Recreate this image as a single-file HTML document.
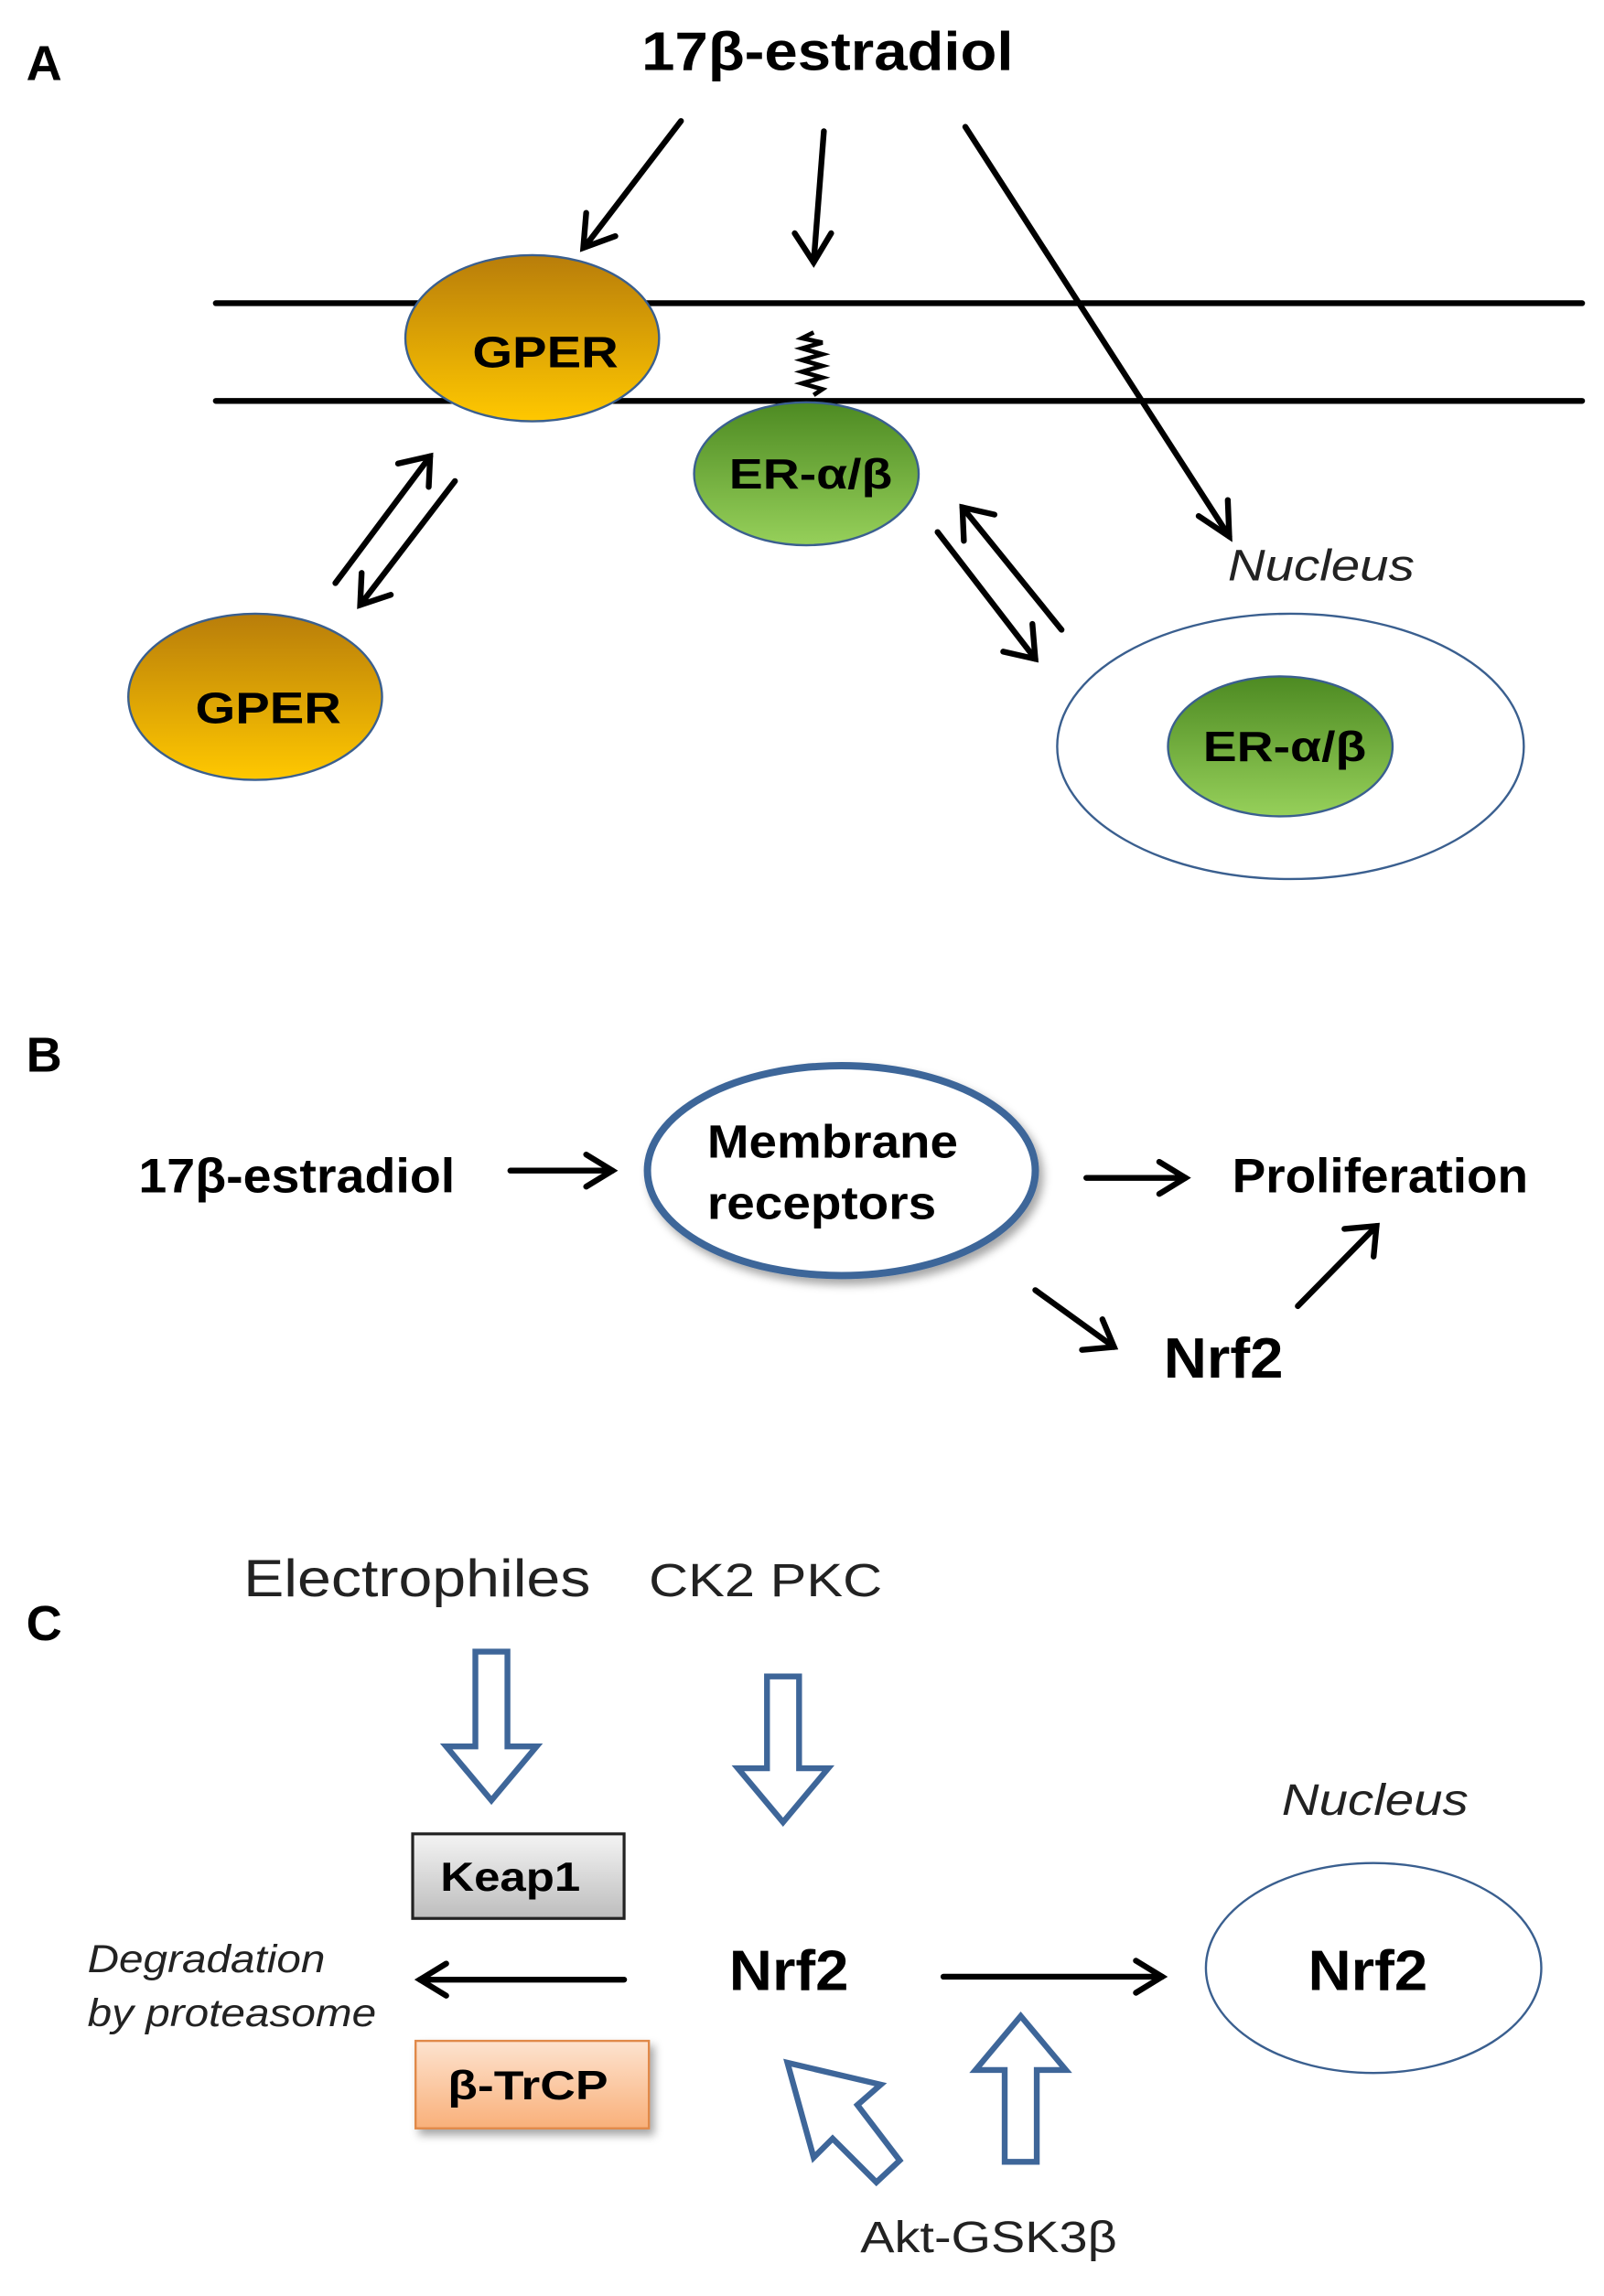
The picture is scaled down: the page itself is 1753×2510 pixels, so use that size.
<!DOCTYPE html>
<html><head><meta charset="utf-8"><style>
html,body{margin:0;padding:0;background:#fff;}
svg{display:block;}
text{font-family:"Liberation Sans",sans-serif;}
</style></head><body>
<svg width="1753" height="2510" viewBox="0 0 1100 1575" xmlns="http://www.w3.org/2000/svg">
<defs>
<linearGradient id="gold" x1="0" y1="0" x2="0" y2="1"><stop offset="0" stop-color="#b87d0a"/><stop offset="1" stop-color="#ffc800"/></linearGradient>
<linearGradient id="green" x1="0" y1="0" x2="0" y2="1"><stop offset="0" stop-color="#4d8a22"/><stop offset="1" stop-color="#96d05a"/></linearGradient>
<linearGradient id="gray" x1="0" y1="0" x2="0" y2="1"><stop offset="0" stop-color="#f4f4f4"/><stop offset="1" stop-color="#bdbdbd"/></linearGradient>
<linearGradient id="orng" x1="0" y1="0" x2="0" y2="1"><stop offset="0" stop-color="#fde3cf"/><stop offset="1" stop-color="#f9b07a"/></linearGradient>
<filter id="sh" x="-20%" y="-20%" width="140%" height="140%"><feDropShadow dx="3" dy="4" stdDeviation="3" flood-color="#000" flood-opacity="0.35"/></filter>
</defs>
<g stroke="#000" stroke-width="4" fill="none" stroke-linecap="round">
<line x1="467" y1="83" x2="402" y2="168"/><polyline points="402,146 400,170 422,162"/>
<line x1="565" y1="90" x2="558" y2="180"/><polyline points="545,160 558,180 570,160"/>
<line x1="662" y1="87" x2="843" y2="368"/><polyline points="822,354 843,368 842,343"/>
<line x1="148" y1="208" x2="1085" y2="208"/>
<line x1="148" y1="275" x2="1085" y2="275"/>
<line x1="230" y1="400" x2="295" y2="313"/><polyline points="273,318 295,313 294,334"/>
<line x1="312" y1="330" x2="247" y2="415"/><polyline points="248,393 247,415 268,408"/>
<line x1="728" y1="432" x2="660" y2="348"/><polyline points="661,371 660,348 682,353"/>
<line x1="643" y1="365" x2="710" y2="452"/><polyline points="688,447 710,452 708,428"/>
<line x1="350" y1="803" x2="420" y2="803"/><polyline points="402,792 420,803 402,814"/>
<line x1="745" y1="808" x2="813" y2="808"/><polyline points="795,797 813,808 795,819"/>
<line x1="710" y1="885" x2="764" y2="924"/><polyline points="742,926 764,924 756,905"/>
<line x1="890" y1="896" x2="944" y2="841"/><polyline points="922,843 944,841 942,862"/>
<line x1="428" y1="1358" x2="288" y2="1358"/><polyline points="306,1347 288,1358 306,1369"/>
<line x1="647" y1="1356" x2="797" y2="1356"/><polyline points="779,1345 797,1356 779,1367"/>
</g>
<path d="M558,228 l-8,4 l14,3 l-14,4 l14,4 l-14,4 l14,4 l-14,4 l14,4 l-14,4 l14,4 l-6,4" stroke="#000" stroke-width="3" fill="none"/>
<text x="18" y="55" font-size="34" font-weight="bold">A</text>
<text x="440" y="48" font-size="37" font-weight="bold" textLength="255" lengthAdjust="spacingAndGlyphs">17β-estradiol</text>
<ellipse cx="365" cy="232" rx="87" ry="57" fill="url(#gold)" stroke="#3a5f8f" stroke-width="1.5"/>
<text x="324" y="252" font-size="30" font-weight="bold" textLength="100" lengthAdjust="spacingAndGlyphs">GPER</text>
<ellipse cx="553" cy="325" rx="77" ry="49" fill="url(#green)" stroke="#3a5f8f" stroke-width="1.5"/>
<text x="500" y="335" font-size="29" font-weight="bold" textLength="112" lengthAdjust="spacingAndGlyphs">ER-α/β</text>
<ellipse cx="175" cy="478" rx="87" ry="57" fill="url(#gold)" stroke="#3a5f8f" stroke-width="1.5"/>
<text x="134" y="496" font-size="30" font-weight="bold" textLength="100" lengthAdjust="spacingAndGlyphs">GPER</text>
<text x="842" y="398" font-size="30" font-style="italic" fill="#222" textLength="128" lengthAdjust="spacingAndGlyphs">Nucleus</text>
<ellipse cx="885" cy="512" rx="160" ry="91" fill="#fff" stroke="#3a5f8f" stroke-width="1.5"/>
<ellipse cx="878" cy="512" rx="77" ry="48" fill="url(#green)" stroke="#3a5f8f" stroke-width="1.5"/>
<text x="825" y="522" font-size="29" font-weight="bold" textLength="112" lengthAdjust="spacingAndGlyphs">ER-α/β</text>

<text x="18" y="735" font-size="34" font-weight="bold">B</text>
<text x="95" y="818" font-size="33" font-weight="bold" textLength="217" lengthAdjust="spacingAndGlyphs">17β-estradiol</text>
<ellipse cx="577" cy="803" rx="133" ry="72" fill="#fff" stroke="#3e6699" stroke-width="5" filter="url(#sh)"/>
<text x="485" y="794" font-size="32" font-weight="bold" textLength="172" lengthAdjust="spacingAndGlyphs">Membrane</text>
<text x="485" y="836" font-size="32" font-weight="bold" textLength="157" lengthAdjust="spacingAndGlyphs">receptors</text>
<text x="845" y="818" font-size="33" font-weight="bold" textLength="203" lengthAdjust="spacingAndGlyphs">Proliferation</text>
<text x="798" y="945" font-size="39" font-weight="bold" textLength="82" lengthAdjust="spacingAndGlyphs">Nrf2</text>

<text x="18" y="1125" font-size="34" font-weight="bold">C</text>
<text x="167" y="1095" font-size="36" fill="#222" textLength="238" lengthAdjust="spacingAndGlyphs">Electrophiles</text>
<text x="445" y="1095" font-size="32" fill="#222" textLength="160" lengthAdjust="spacingAndGlyphs">CK2  PKC</text>
<g fill="#fff" stroke="#3e6699" stroke-width="4" stroke-linejoin="miter">
<polygon points="326,1133 348,1133 348,1198 368,1198 337,1235 306,1198 326,1198"/>
<polygon points="526,1150 548,1150 548,1213 568,1213 537,1250 506,1213 526,1213"/>
<polygon points="689,1483 711,1483 711,1420 731,1420 700,1383 669,1420 689,1420"/>
<polygon points="617,1482 601,1497 571,1467 558,1480 540,1415 604,1430 588,1444"/>
</g>
<rect x="283" y="1258" width="145" height="58" fill="url(#gray)" stroke="#222" stroke-width="2"/>
<text x="302" y="1297" font-size="28" font-weight="bold" textLength="96" lengthAdjust="spacingAndGlyphs">Keap1</text>
<rect x="285" y="1400" width="160" height="60" fill="url(#orng)" stroke="#e0894a" stroke-width="1.5" filter="url(#sh)"/>
<text x="307" y="1440" font-size="28" font-weight="bold" textLength="110" lengthAdjust="spacingAndGlyphs">β-TrCP</text>
<text x="60" y="1353" font-size="27" font-style="italic" fill="#222" textLength="163" lengthAdjust="spacingAndGlyphs">Degradation</text>
<text x="60" y="1390" font-size="27" font-style="italic" fill="#222" textLength="198" lengthAdjust="spacingAndGlyphs">by proteasome</text>
<text x="500" y="1365" font-size="39" font-weight="bold" textLength="82" lengthAdjust="spacingAndGlyphs">Nrf2</text>
<text x="879" y="1245" font-size="30" font-style="italic" fill="#222" textLength="128" lengthAdjust="spacingAndGlyphs">Nucleus</text>
<ellipse cx="942" cy="1350" rx="115" ry="72" fill="#fff" stroke="#3a5f8f" stroke-width="1.5"/>
<text x="897" y="1365" font-size="39" font-weight="bold" textLength="82" lengthAdjust="spacingAndGlyphs">Nrf2</text>
<text x="590" y="1545" font-size="30" fill="#222" textLength="176" lengthAdjust="spacingAndGlyphs">Akt-GSK3β</text>
</svg>
</body></html>
